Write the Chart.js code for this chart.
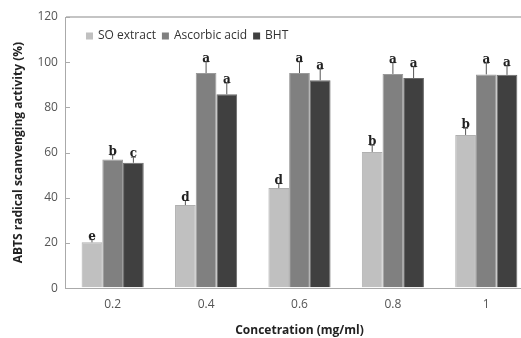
<!DOCTYPE html>
<html>
<head>
<meta charset="utf-8">
<script src="https://cdn.jsdelivr.net/npm/chart.js@4/dist/chart.umd.min.js"></script>
<style>
  html, body { margin: 0; padding: 0; background: #fff; overflow: hidden; }
  #wrap { width: 536px; height: 338px; }
</style>
</head>
<body>
<div id="wrap"><canvas id="abtsChart"></canvas></div>
<script>
var concentrations = ['0.2', '0.4', '0.6', '0.8', '1'];
var soExtract = [20.3, 36.8, 44.3, 60.3, 67.8];
var ascorbicAcid = [57, 95.2, 95.2, 94.8, 94.6];
var bht = [55.5, 85.8, 92, 93, 94.4];
var soErr = [1.2, 2, 2, 3, 3];
var ascErr = [2, 5, 5, 5, 5];
var bhtErr = [2.5, 5, 5, 5, 4];
var soLetters = ['e', 'd', 'd', 'b', 'b'];
var ascLetters = ['b', 'a', 'a', 'a', 'a'];
var bhtLetters = ['c', 'a', 'a', 'a', 'a'];

var errors = [soErr, ascErr, bhtErr];
var letters = [soLetters, ascLetters, bhtLetters];

// error bars (upper half only), significance letters, legend inside the plot
var errorBarPlugin = {
    id: 'errorBars',
    afterDatasetsDraw: function (chart) {
        var ctx = chart.ctx;
        var yScale = chart.scales.y;
        var area = chart.chartArea;
        ctx.save();
        chart.data.datasets.forEach(function (ds, i) {
            var meta = chart.getDatasetMeta(i);
            meta.data.forEach(function (bar, j) {
                var top = yScale.getPixelForValue(ds.data[j] + errors[i][j]);
                ctx.strokeStyle = '#555';
                ctx.lineWidth = 1;
                ctx.beginPath();
                ctx.moveTo(bar.x, bar.y);
                ctx.lineTo(bar.x, top);
                ctx.moveTo(bar.x - 2.5, top);
                ctx.lineTo(bar.x + 2.5, top);
                ctx.stroke();
                ctx.fillStyle = '#222';
                ctx.font = 'bold 12px "DejaVu Serif"';
                ctx.textAlign = 'center';
                ctx.textBaseline = 'bottom';
                ctx.fillText(letters[i][j], bar.x, top + 3);
            });
        });
        // small inside ticks on the y axis
        yScale.ticks.forEach(function (t) {
            var y = Math.round(yScale.getPixelForValue(t.value));
            ctx.strokeStyle = '#aaa';
            ctx.beginPath();
            ctx.moveTo(area.left, y + 0.5);
            ctx.lineTo(area.left + 4, y + 0.5);
            ctx.stroke();
        });
        // legend
        var lx = area.left + 20;
        var ly = area.top + 19;
        ctx.font = '12px "Open Sans"';
        ctx.textAlign = 'left';
        ctx.textBaseline = 'middle';
        chart.data.datasets.forEach(function (ds) {
            ctx.fillStyle = ds.backgroundColor;
            ctx.fillRect(lx, ly - 3.5, 7, 7);
            ctx.fillStyle = '#333';
            ctx.fillText(ds.label, lx + 12, ly);
            lx += 12 + ctx.measureText(ds.label).width + 6;
        });
        ctx.restore();
    }
};

var ctx = document.getElementById('abtsChart').getContext('2d');
var myChart = new Chart(ctx, {
    type: 'bar',
    data: {
        labels: concentrations,
        datasets: [{
            label: 'SO extract',
            data: soExtract,
            backgroundColor: '#c0c0c0',
            borderColor: '#b0b0b0',
            borderWidth: 1
        }, {
            label: 'Ascorbic acid',
            data: ascorbicAcid,
            backgroundColor: '#808080',
            borderColor: '#9a9a9a',
            borderWidth: 1
        }, {
            label: 'BHT',
            data: bht,
            backgroundColor: '#404040',
            borderColor: '#6a6a6a',
            borderWidth: 1
        }]
    },
    options: {
        responsive: true,
        maintainAspectRatio: false,
        animation: false,
        layout: { padding: { top: 17, left: 11, right: 3, bottom: 0 } },
        datasets: { bar: { categoryPercentage: 0.665, barPercentage: 1 } },
        plugins: {
            legend: { display: false },
            tooltip: { enabled: false }
        },
        scales: {
            x: {
                grid: { display: false, drawTicks: false },
                border: { color: '#aaa', width: 1 },
                ticks: { color: '#555', padding: 9, font: { family: '"Open Sans"', size: 12 } },
                title: {
                    display: true,
                    text: 'Concetration (mg/ml)',
                    color: '#222',
                    padding: { top: 3, bottom: 0 },
                    font: { family: '"Open Sans"', size: 12, weight: 'bold' }
                }
            },
            y: {
                min: 0,
                max: 120,
                ticks: { stepSize: 20, color: '#555', padding: 8, font: { family: '"Open Sans"', size: 12 } },
                grid: {
                    drawTicks: false,
                    lineWidth: 2,
                    color: function (c) { return c.tick && c.tick.value === 120 ? '#c4c4c4' : 'rgba(0,0,0,0)'; }
                },
                border: { color: '#aaa', width: 1 },
                title: {
                    display: true,
                    text: 'ABTS radical scanvenging activity (%)',
                    color: '#222',
                    padding: { top: 0, bottom: 4 },
                    font: { family: '"Open Sans"', size: 12, weight: 'bold' }
                }
            }
        }
    },
    plugins: [errorBarPlugin]
});
</script>
</body>
</html>
